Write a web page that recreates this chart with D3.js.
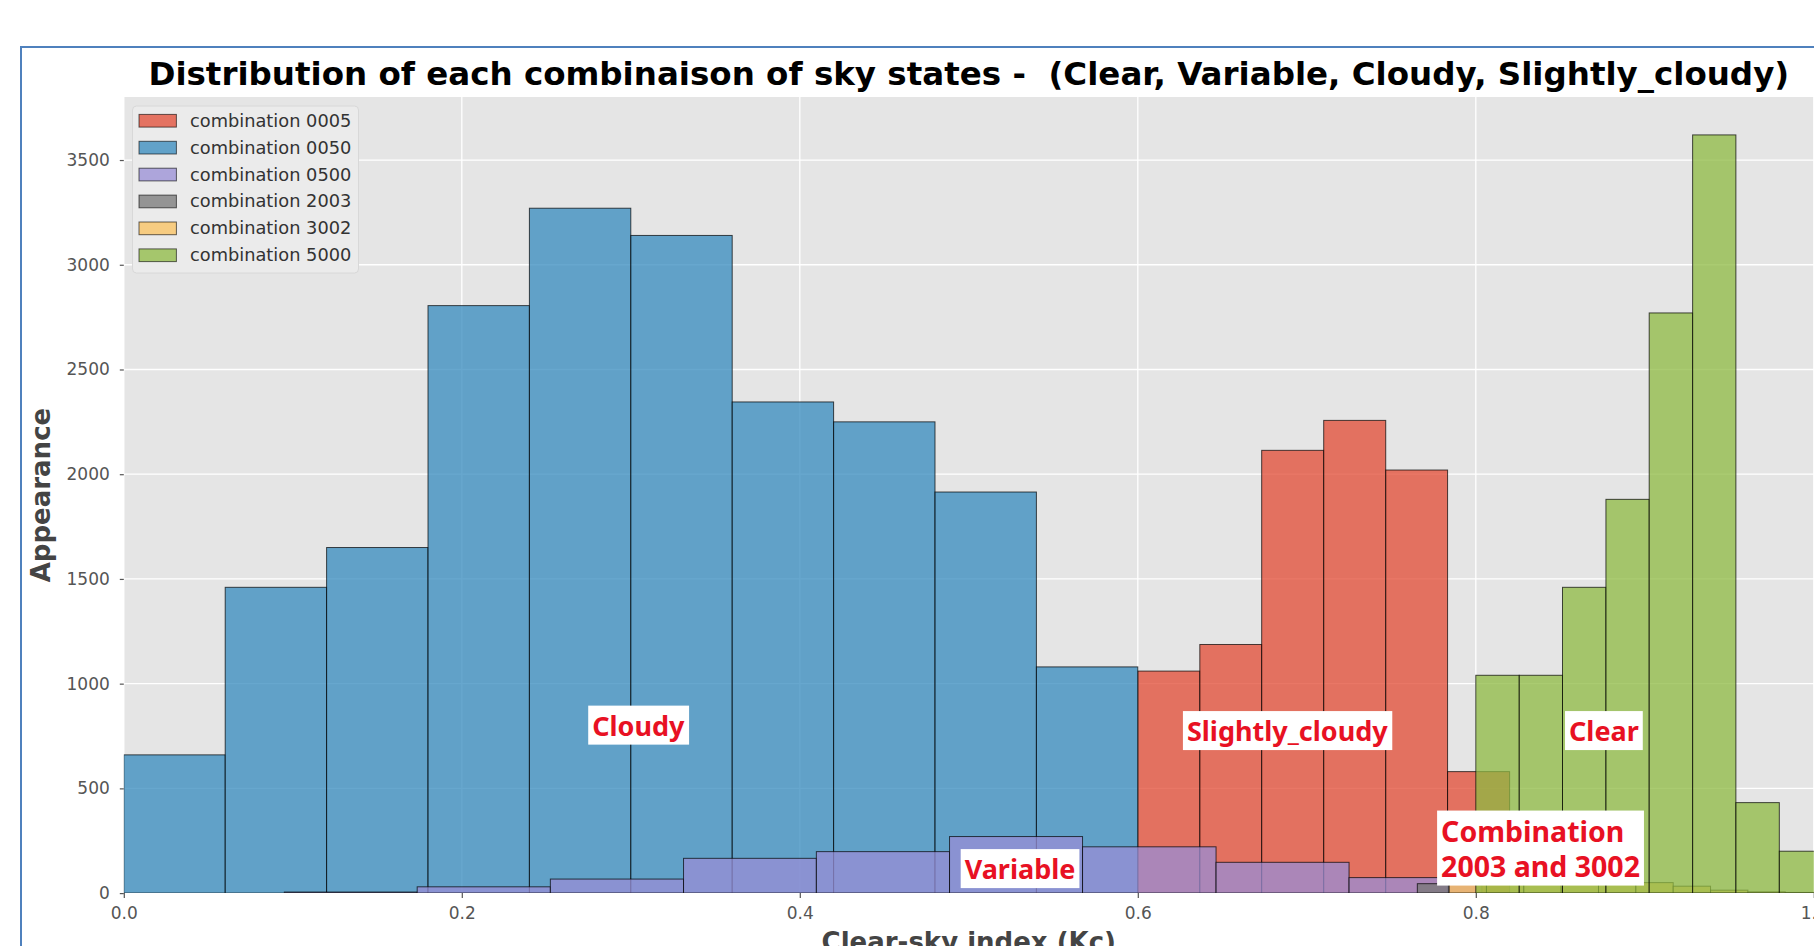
<!DOCTYPE html>
<html>
<head>
<meta charset="utf-8">
<script src="https://cdn.jsdelivr.net/npm/d3@7"></script>
<style>
  html, body { margin: 0; padding: 0; background: #ffffff; }
  svg { display: block; }
</style>
</head>
<body>
<svg id="chart" width="1814" height="946"></svg>
<script>
// ---------------- DATA ----------------
const titleText = "Distribution of each combinaison of sky states -  (Clear, Variable, Cloudy, Slightly_cloudy)";
const xLabel = "Clear-sky index (Kc)";
const yLabel = "Appearance";
const xTickValues = [0.0, 0.2, 0.4, 0.6, 0.8, 1.0];
const yTickValues = [0, 500, 1000, 1500, 2000, 2500, 3000, 3500];

const seriesNames = ["combination 0005", "combination 0050", "combination 0500",
                     "combination 2003", "combination 3002", "combination 5000"];
const seriesColors = ["#E24A33", "#348ABD", "#988ED5", "#777777", "#FBC15E", "#8EBA42"];

// combination 0005 (Slightly_cloudy)
const edges0005 = [0.6, 0.6367, 0.6733, 0.71, 0.7467, 0.7833, 0.82];
const counts0005 = [1060, 1187, 2114, 2257, 2020, 580];
// combination 0050 (Cloudy)
const edges0050 = [0, 0.06, 0.12, 0.18, 0.24, 0.30, 0.36, 0.42, 0.48, 0.54, 0.60];
const counts0050 = [660, 1460, 1650, 2805, 3270, 3140, 2345, 2250, 1915, 1080];
// combination 0500 (Variable)
const edges0500 = [0.095, 0.1736, 0.2524, 0.3312, 0.4098, 0.4886, 0.5673, 0.6463, 0.725, 0.8036];
const counts0500 = [5, 30, 67, 166, 198, 270, 221, 147, 74];
// combination 2003
const edges2003 = [0.7654, 0.7842];
const counts2003 = [45];
// combination 3002
const edges3002 = [0.7842, 0.8063, 0.8284, 0.8505, 0.8726, 0.8947, 0.9168, 0.9389, 0.961, 0.9831, 1.0052];
const counts3002 = [47, 46, 46, 47, 47, 50, 33, 14, 6, 3];
// combination 5000 (Clear)
const edges5000 = [0.8, 0.8257, 0.8513, 0.877, 0.9026, 0.9283, 0.9539, 0.9796, 1.0052];
const counts5000 = [1040, 1040, 1460, 1880, 2770, 3620, 432, 200];

const annotations = [
  { lines: ["Cloudy"], x: 0.2748, y: 802, size: 27 },
  { lines: ["Slightly_cloudy"], x: 0.6267, y: 776, size: 27 },
  { lines: ["Clear"], x: 0.8528, y: 776, size: 27 },
  { lines: ["Variable"], x: 0.4952, y: 117, size: 27 },
  { lines: ["Combination", "2003 and 3002"], x: 0.7771, y: 215, size: 28.5 }
];

// ---------------- LAYOUT ----------------
const svg = d3.select("#chart");
const plotLeft = 123.8, plotRight = 1813.8, plotTop = 97, plotBottom = 893.1;
const x = d3.scaleLinear().domain([0, 1.0]).range([plotLeft, plotRight]);
const y = d3.scaleLinear().domain([0, 3801]).range([plotBottom, plotTop]);

const series = [
  { name: seriesNames[0], color: seriesColors[0], edges: edges0005, counts: counts0005 },
  { name: seriesNames[1], color: seriesColors[1], edges: edges0050, counts: counts0050 },
  { name: seriesNames[2], color: seriesColors[2], edges: edges0500, counts: counts0500 },
  { name: seriesNames[3], color: seriesColors[3], edges: edges2003, counts: counts2003 },
  { name: seriesNames[4], color: seriesColors[4], edges: edges3002, counts: counts3002 },
  { name: seriesNames[5], color: seriesColors[5], edges: edges5000, counts: counts5000 }
];

// outer blue frame
svg.append("rect")
  .attr("x", 21).attr("y", 47).attr("width", 1900).attr("height", 1000)
  .attr("fill", "none").attr("stroke", "#4f81bd").attr("stroke-width", 2);

// plot background
svg.append("rect")
  .attr("x", plotLeft).attr("y", plotTop)
  .attr("width", plotRight - plotLeft).attr("height", plotBottom - plotTop)
  .attr("fill", "#e5e5e5");

// grid
const grid = svg.append("g");
grid.selectAll("line.gy").data(yTickValues).join("line")
  .attr("x1", plotLeft).attr("x2", plotRight)
  .attr("y1", d => y(d)).attr("y2", d => y(d))
  .attr("stroke", "#ffffff").attr("stroke-width", 1.3);
grid.selectAll("line.gx").data(xTickValues).join("line")
  .attr("y1", plotTop).attr("y2", plotBottom)
  .attr("x1", d => x(d)).attr("x2", d => x(d))
  .attr("stroke", "#ffffff").attr("stroke-width", 1.3);

// clip
svg.append("clipPath").attr("id", "plotclip").append("rect")
  .attr("x", plotLeft).attr("y", plotTop)
  .attr("width", plotRight - plotLeft).attr("height", plotBottom - plotTop);

// bars
const barsG = svg.append("g").attr("clip-path", "url(#plotclip)");
series.forEach(s => {
  const bins = s.counts.map((c, i) => ({ x0: s.edges[i], x1: s.edges[i + 1], c }));
  barsG.append("g").selectAll("rect").data(bins).join("rect")
    .attr("x", d => x(d.x0))
    .attr("width", d => x(d.x1) - x(d.x0))
    .attr("y", d => y(d.c))
    .attr("height", d => y(0) - y(d.c))
    .attr("fill", s.color).attr("fill-opacity", 0.75)
    .attr("stroke", "#000").attr("stroke-opacity", 0.7).attr("stroke-width", 1);
});

// axes
const tickColor = "#555555";
const yAxis = svg.append("g").attr("transform", `translate(${plotLeft},0)`)
  .call(d3.axisLeft(y).tickValues(yTickValues).tickSize(4).tickPadding(10).tickFormat(d3.format("d")));
const xAxis = svg.append("g").attr("transform", `translate(0,${plotBottom})`)
  .call(d3.axisBottom(x).tickValues(xTickValues).tickSize(5).tickPadding(9).tickFormat(d3.format(".1f")));
[xAxis, yAxis].forEach(a => {
  a.select(".domain").remove();
  a.selectAll("line").attr("stroke", tickColor).attr("stroke-width", 1.2);
  a.selectAll("text").attr("fill", tickColor)
    .style("font-family", "DejaVu Sans").style("font-size", "17px");
});

// title
svg.append("text")
  .attr("x", (plotLeft + plotRight) / 2).attr("y", 85)
  .attr("text-anchor", "middle")
  .style("white-space", "pre")
  .style("font-family", "DejaVu Sans").style("font-weight", "bold").style("font-size", "32.5px")
  .attr("fill", "#000")
  .text(titleText);

// axis labels
svg.append("text")
  .attr("x", (plotLeft + plotRight) / 2).attr("y", 951)
  .attr("text-anchor", "middle")
  .style("font-family", "DejaVu Sans").style("font-weight", "bold").style("font-size", "26px")
  .attr("fill", "#444")
  .text(xLabel);
svg.append("text")
  .attr("transform", `translate(50,${(plotTop + plotBottom) / 2}) rotate(-90)`)
  .attr("text-anchor", "middle")
  .style("font-family", "DejaVu Sans").style("font-weight", "bold").style("font-size", "26px")
  .attr("fill", "#444")
  .text(yLabel);

// legend
const legend = svg.append("g");
legend.append("rect")
  .attr("x", 132.5).attr("y", 106).attr("width", 226).attr("height", 167)
  .attr("rx", 4).attr("fill", "#ebebeb").attr("stroke", "#d8d8d8").attr("stroke-width", 1);
const legItems = legend.selectAll("g.item").data(series).join("g")
  .attr("transform", (d, i) => `translate(139,${120.7 + i * 26.9})`);
legItems.append("rect")
  .attr("x", 0).attr("y", -6.3).attr("width", 37.4).attr("height", 12.7)
  .attr("fill", d => d.color).attr("fill-opacity", 0.75)
  .attr("stroke", "#000").attr("stroke-opacity", 0.6).attr("stroke-width", 1);
legItems.append("text")
  .attr("x", 51).attr("y", 6)
  .style("font-family", "DejaVu Sans").style("font-size", "17.8px")
  .attr("fill", "#333")
  .text(d => d.name);

// annotations
const annG = svg.append("g");
annotations.forEach(a => {
  const g = annG.append("g");
  const rect = g.append("rect").attr("fill", "#ffffff");
  const t = g.append("text")
    .style("font-family", "Noto Sans").style("font-weight", "bold").style("font-size", a.size + "px")
    .attr("fill", "#e81123");
  a.lines.forEach((ln, i) => {
    t.append("tspan").attr("x", 0).attr("dy", i === 0 ? 0 : 35).text(ln);
  });
  const bb = t.node().getBBox();
  const padX = 4, padY = 1;
  rect.attr("x", bb.x - padX).attr("y", bb.y - padY)
    .attr("width", bb.width + 2 * padX).attr("height", bb.height + 2 * padY);
  const cy = bb.y - padY + (bb.height + 2 * padY) / 2;
  const lx = bb.x - padX;
  g.attr("transform", `translate(${x(a.x) - lx},${y(a.y) - cy})`);
});
</script>
</body>
</html>
